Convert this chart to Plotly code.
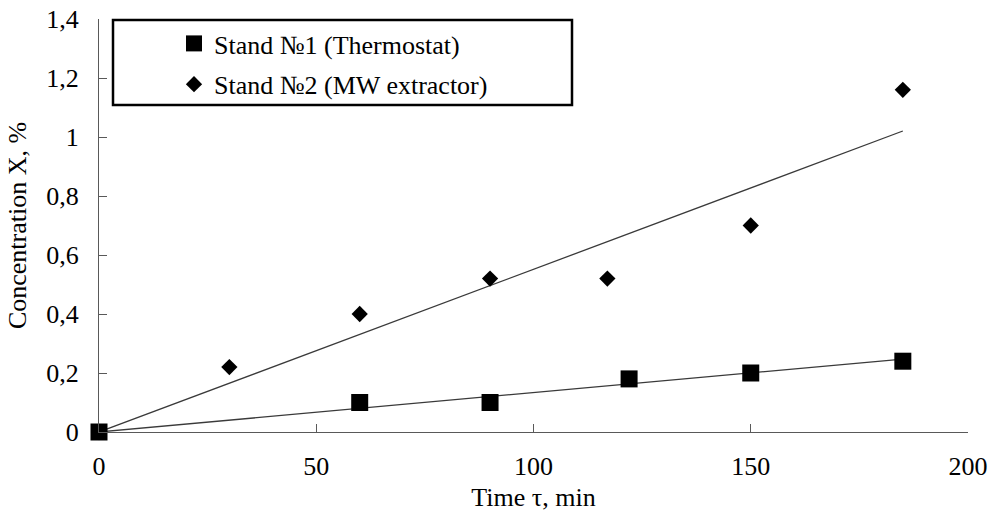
import numpy as np
import plotly.graph_objects as go

# ---- data ----
time_stand1 = [0, 60, 90, 122, 150, 185]
conc_stand1 = [0, 0.10, 0.10, 0.18, 0.20, 0.24]
time_stand2 = [0, 30, 60, 90, 117, 150, 185]
conc_stand2 = [0, 0.22, 0.40, 0.52, 0.52, 0.70, 1.16]
name1 = "Stand №1 (Thermostat)"
name2 = "Stand №2 (MW extractor)"
x_title = "Time τ, min"
y_title = "Concentration X, %"
x_ticks = [0, 50, 100, 150, 200]
y_ticks = [0, 0.2, 0.4, 0.6, 0.8, 1.0, 1.2, 1.4]


def fit_origin(x, y):
    x = np.asarray(x, float)
    y = np.asarray(y, float)
    return float((x * y).sum() / (x * x).sum())


k1 = fit_origin(time_stand1, conc_stand1)
k2 = fit_origin(time_stand2, conc_stand2)
tx1 = [0, max(time_stand1)]
tx2 = [0, max(time_stand2)]

FONT = "Liberation Serif"
FS = 26
W, H = 990, 515
ML, MR, MT, MB = 99, 22, 19, 83

fig = go.Figure()
fig.add_trace(go.Scatter(x=tx2, y=[k2 * v for v in tx2], mode="lines",
                         line=dict(color="#3a3a3a", width=1.3),
                         showlegend=False, hoverinfo="skip"))
fig.add_trace(go.Scatter(x=tx1, y=[k1 * v for v in tx1], mode="lines",
                         line=dict(color="#3a3a3a", width=1.3),
                         showlegend=False, hoverinfo="skip"))
fig.add_trace(go.Scatter(x=time_stand1, y=conc_stand1, mode="markers", name=name1,
                         legendgroup="a",
                         marker=dict(symbol="square", size=17, color="black"),
                         cliponaxis=False))
fig.add_trace(go.Scatter(x=time_stand2, y=conc_stand2, mode="markers", name=name2,
                         legendgroup="b",
                         marker=dict(symbol="diamond", size=12.5, color="black"),
                         cliponaxis=False))

pw = W - ML - MR
ph = H - MT - MB


def px_x(p):
    return (p - ML) / pw


def px_y(p):
    return (H - MB - p) / ph


fig.add_shape(type="rect", xref="paper", yref="paper",
              x0=px_x(113), x1=px_x(572), y0=px_y(105), y1=px_y(20),
              line=dict(color="black", width=2.5), fillcolor="rgba(0,0,0,0)")

axis_common = dict(showgrid=False, zeroline=False, showline=True,
                   linecolor="#595959", linewidth=1.3,
                   ticks="inside", ticklen=8, tickwidth=1.3, tickcolor="#595959",
                   tickfont=dict(family=FONT, size=FS, color="black"),
                   title_font=dict(family=FONT, size=FS, color="black"))

fig.update_xaxes(range=[0, 200], tickvals=x_ticks,
                 title_text=x_title, title_standoff=7,
                 ticklabelstandoff=11, **axis_common)
fig.update_yaxes(range=[0, 1.4], tickvals=y_ticks,
                 title_text=y_title, title_standoff=12,
                 ticklabelstandoff=14, **axis_common)

fig.update_layout(
    width=W, height=H,
    margin=dict(l=ML, r=MR, t=MT, b=MB, autoexpand=False),
    paper_bgcolor="white", plot_bgcolor="white",
    separators=", ",
    font=dict(family=FONT, size=FS, color="black"),
    legend=dict(x=px_x(174), y=px_y(20), xanchor="left", yanchor="top",
                bgcolor="rgba(0,0,0,0)", borderwidth=0,
                tracegroupgap=4,
                font=dict(family=FONT, size=FS, color="black")),
)

fig.write_html("out.html")
